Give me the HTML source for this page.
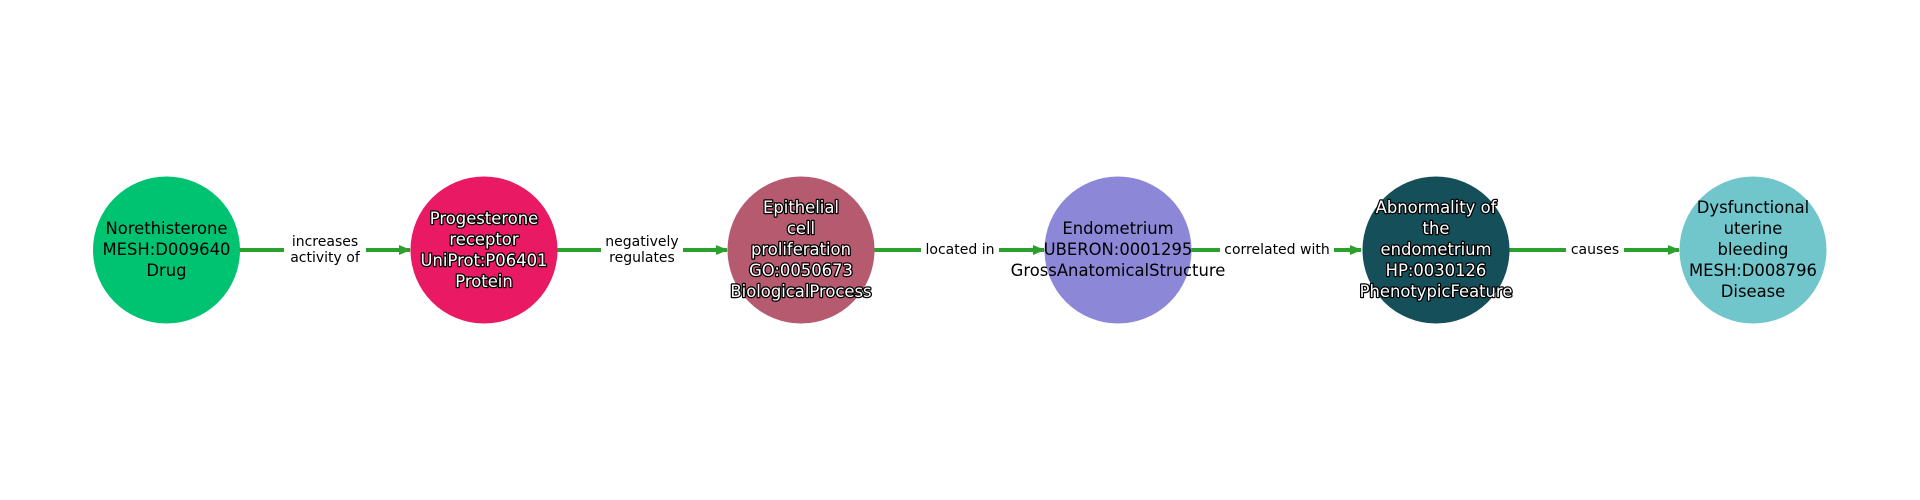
<!DOCTYPE html>
<html><head><meta charset="utf-8"><style>
html,body{margin:0;padding:0;background:#fff;}
svg{display:block;}
text{font-family:"DejaVu Sans","Liberation Sans",sans-serif;}
.n{font-size:16.4px;text-anchor:middle;}
.w{fill:#fff;stroke:#000;stroke-width:2.5px;paint-order:stroke;stroke-linejoin:round;}
.e{font-size:14px;text-anchor:middle;fill:#000;}
</style></head><body>
<svg width="1920" height="500" viewBox="0 0 1920 500" xmlns="http://www.w3.org/2000/svg">
<defs><marker id="a" markerWidth="12" markerHeight="12" refX="11" refY="6" orient="auto" markerUnits="userSpaceOnUse"><path d="M0,1 L12,6 L0,11 Z" fill="#2ca02c"/></marker></defs>
<g stroke="#2ca02c" stroke-width="4" fill="none">
<line x1="239" y1="250" x2="410" y2="250" marker-end="url(#a)"/>
<line x1="557" y1="250" x2="727" y2="250" marker-end="url(#a)"/>
<line x1="874" y1="250" x2="1044" y2="250" marker-end="url(#a)"/>
<line x1="1191" y1="250" x2="1361" y2="250" marker-end="url(#a)"/>
<line x1="1508" y1="250" x2="1679" y2="250" marker-end="url(#a)"/>
</g>
<g fill="#fff">
<rect x="284" y="230" width="82" height="40"/>
<rect x="601" y="230" width="82" height="40"/>
<rect x="921" y="240" width="78" height="20"/>
<rect x="1220" y="240" width="114" height="20"/>
<rect x="1566" y="240" width="58" height="20"/>
</g>
<text class="e" x="325" y="246">increases</text><text class="e" x="325" y="262">activity of</text>
<text class="e" x="642" y="246">negatively</text><text class="e" x="642" y="262">regulates</text>
<text class="e" x="960" y="254">located in</text>
<text class="e" x="1277" y="254">correlated with</text>
<text class="e" x="1595" y="254">causes</text>
<circle cx="166.5" cy="250" r="73.5" fill="#00c372"/>
<circle cx="484" cy="250" r="73.5" fill="#e91a63"/>
<circle cx="801" cy="250" r="73.5" fill="#b65a70"/>
<circle cx="1118" cy="250" r="73.5" fill="#8c88d7"/>
<circle cx="1436" cy="250" r="73.5" fill="#154f59"/>
<circle cx="1753" cy="250" r="73.5" fill="#71c6cb"/>
<text class="n" x="166.5" y="234">Norethisterone</text>
<text class="n" x="166.5" y="255">MESH:D009640</text>
<text class="n" x="166.5" y="276">Drug</text>
<g class="w">
<text class="n w" x="484" y="224">Progesterone</text>
<text class="n w" x="484" y="245">receptor</text>
<text class="n w" x="484" y="266">UniProt:P06401</text>
<text class="n w" x="484" y="287">Protein</text>
<text class="n w" x="801" y="213">Epithelial</text>
<text class="n w" x="801" y="234">cell</text>
<text class="n w" x="801" y="255">proliferation</text>
<text class="n w" x="801" y="276">GO:0050673</text>
<text class="n w" x="801" y="297">BiologicalProcess</text>
<text class="n w" x="1436" y="213">Abnormality of</text>
<text class="n w" x="1436" y="234">the</text>
<text class="n w" x="1436" y="255">endometrium</text>
<text class="n w" x="1436" y="276">HP:0030126</text>
<text class="n w" x="1436" y="297">PhenotypicFeature</text>
</g>
<text class="n" x="1118" y="234">Endometrium</text>
<text class="n" x="1118" y="255">UBERON:0001295</text>
<text class="n" x="1118" y="276">GrossAnatomicalStructure</text>
<text class="n" x="1753" y="213">Dysfunctional</text>
<text class="n" x="1753" y="234">uterine</text>
<text class="n" x="1753" y="255">bleeding</text>
<text class="n" x="1753" y="276">MESH:D008796</text>
<text class="n" x="1753" y="297">Disease</text>
</svg>
</body></html>
